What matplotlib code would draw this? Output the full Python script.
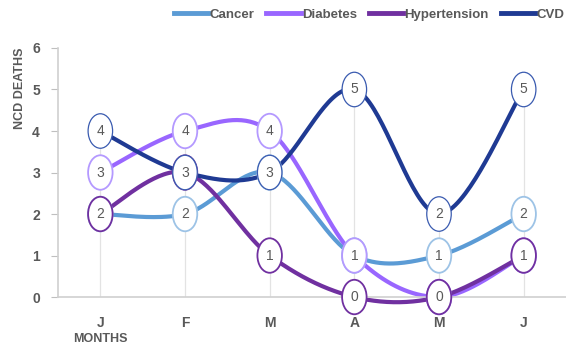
import numpy as np
import matplotlib
matplotlib.use("Agg")
import matplotlib.pyplot as plt
from matplotlib.patches import Ellipse
from matplotlib.lines import Line2D
from matplotlib.transforms import ScaledTranslation

# monthly NCD deaths
months = ["J", "F", "M", "A", "M", "J"]
cancer = [2, 2, 3, 1, 1, 2]
diabetes = [3, 4, 4, 1, 0, 1]
hypertension = [2, 3, 1, 0, 0, 1]
cvd = [4, 3, 3, 5, 2, 5]

series = [
    ("Cancer", cancer, "#5B9BD5", "#9DC3E6", 1.3),
    ("Diabetes", diabetes, "#9966FF", "#B499FF", 1.3),
    ("Hypertension", hypertension, "#7030A0", "#7030A0", 1.3),
    ("CVD", cvd, "#1F3A93", "#3A5BB0", 0.9),
]

GREY = "#595959"
plt.rcParams["font.family"] = ["Liberation Sans", "DejaVu Sans"]


def smooth(x, y, n=40):
    # catmull-rom style bezier, ends duplicated
    x = np.asarray(x, float)
    y = np.asarray(y, float)
    px = np.concatenate([[x[0]], x, [x[-1]]])
    py = np.concatenate([[y[0]], y, [y[-1]]])
    xs, ys = [], []
    t = np.linspace(0, 1, n)
    for i in range(1, len(px) - 2):
        p0 = np.array([px[i], py[i]])
        p3 = np.array([px[i + 1], py[i + 1]])
        c1 = p0 + (p3 - np.array([px[i - 1], py[i - 1]])) / 6
        c2 = p3 - (np.array([px[i + 2], py[i + 2]]) - p0) / 6
        b = ((1 - t) ** 3)[:, None] * p0 + (3 * (1 - t) ** 2 * t)[:, None] * c1 \
            + (3 * (1 - t) * t ** 2)[:, None] * c2 + (t ** 3)[:, None] * p3
        xs.append(b[:, 0])
        ys.append(b[:, 1])
    return np.concatenate(xs), np.concatenate(ys)


fig = plt.figure(figsize=(5.66, 3.47), dpi=100)
ax = fig.add_axes([0.1025, 0.144, 0.8975, 0.7177])
x = np.arange(len(months))

# drop lines from the highest point of each month
tops = np.max([cancer, diabetes, hypertension, cvd], axis=0)
ax.vlines(x, 0, tops, color="#E3E3E3", lw=0.9, zorder=1)

for name, vals, col, ecol, elw in series:
    sx, sy = smooth(x, vals)
    ax.plot(sx, sy, color=col, lw=3, solid_capstyle="round", clip_on=False, zorder=2)

# value labels, later series sit on top
for k, (name, vals, col, ecol, elw) in enumerate(series):
    z = 3 + 2 * k
    for xi, v in zip(x, vals):
        tr = fig.dpi_scale_trans + ScaledTranslation(xi, v, ax.transData)
        ax.add_patch(Ellipse((0, 0), 0.245, 0.345, transform=tr, facecolor="white",
                             edgecolor=ecol, lw=elw, zorder=z, clip_on=False))
        ax.text(xi, v, str(v), ha="center", va="center",
                fontsize=10, color=GREY, zorder=z + 1)

ax.set_xlim(-0.5, 5.5)
ax.set_ylim(0, 6)
ax.set_xticks(x)
ax.set_xticklabels(months, fontsize=10, fontweight="bold", color=GREY)
ax.set_yticks(range(7))
ax.set_yticklabels([str(i) for i in range(7)], fontsize=10, fontweight="bold", color=GREY)
ax.tick_params(axis="x", length=0, pad=14)
ax.tick_params(axis="y", length=5, color="#BFBFBF", pad=8)
for s in ["top", "right"]:
    ax.spines[s].set_visible(False)
for s in ["left", "bottom"]:
    ax.spines[s].set_color("#D0D0D0")
    ax.spines[s].set_linewidth(1.2)

fig.text(20 / 566, 1 - 88 / 347, "NCD DEATHS", rotation=90, ha="center", va="center",
         fontsize=9, fontweight="bold", color=GREY)
fig.text(100 / 566, 1 - 339 / 347, "MONTHS", fontsize=9, fontweight="bold", color=GREY,
         ha="center", va="center")

handles = [Line2D([], [], color=c, lw=3.5) for _, _, c, _, _ in series]
fig.legend(handles, [s[0] for s in series], loc="center left",
           bbox_to_anchor=(174 / 566, 1 - 15 / 347), borderpad=0, borderaxespad=0,
           ncol=4, frameon=False, handlelength=2.6, handletextpad=0.1, columnspacing=0.9,
           prop={"weight": "bold", "size": 9.5}, labelcolor=GREY)

fig.savefig("out.png", dpi=100)
